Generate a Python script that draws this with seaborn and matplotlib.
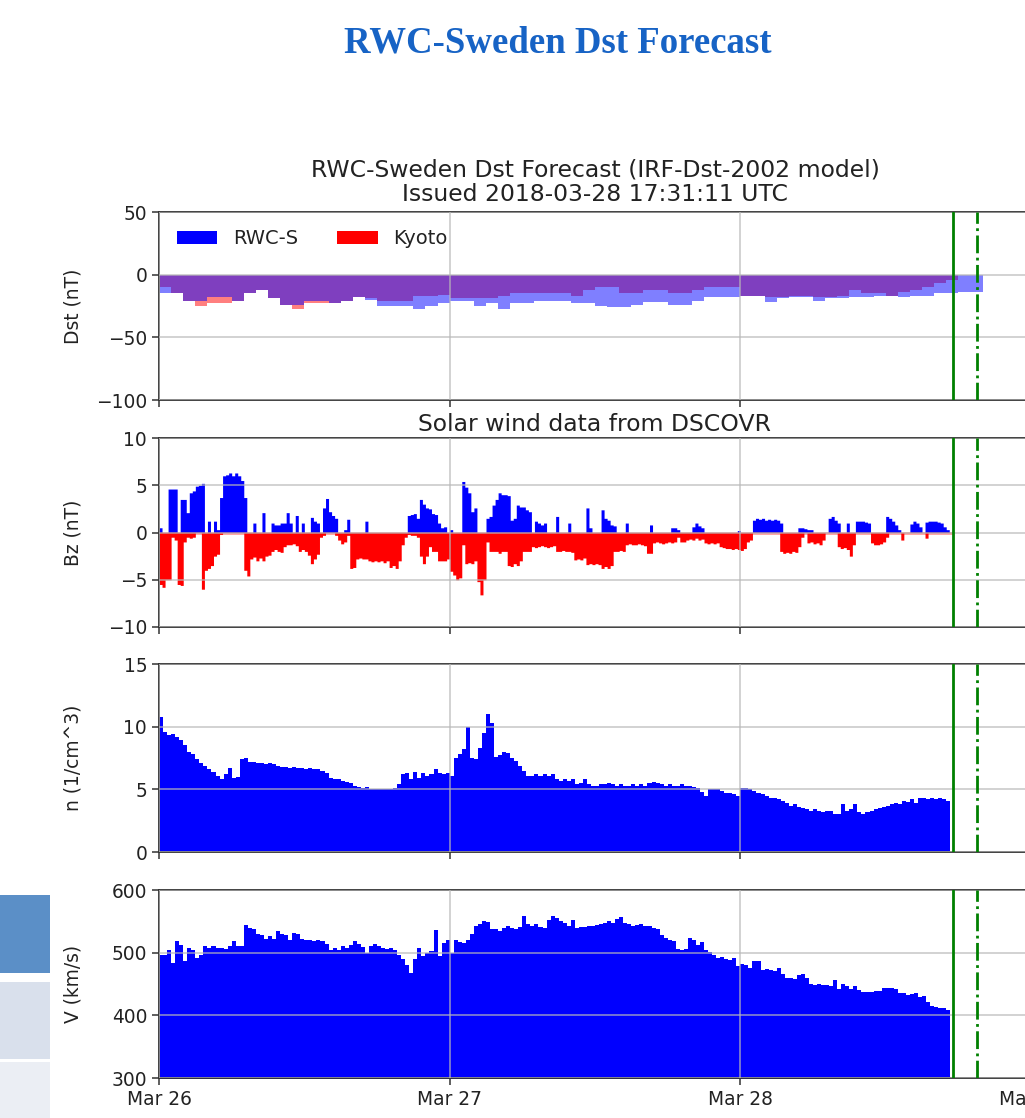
import numpy as np
import matplotlib
matplotlib.use("Agg")
import matplotlib.pyplot as plt
import seaborn as sns
from matplotlib.patches import Patch, Rectangle

# ---------------- data ----------------
page_title = "RWC-Sweden Dst Forecast"
chart_title = "RWC-Sweden Dst Forecast (IRF-Dst-2002 model)\nIssued 2018-03-28 17:31:11 UTC"
wind_title = "Solar wind data from DSCOVR"
day_labels = ["Mar 26", "Mar 27", "Mar 28", "Mar 29"]
series_names = ["RWC-S", "Kyoto"]
y_labels = ["Dst (nT)", "Bz (nT)", "n (1/cm^3)", "V (km/s)"]

# Dst, hourly values from Mar 26 00:00
dst_rwc = [-15, -15, -21, -21, -18, -18, -21, -15, -12, -19, -24, -24, -21, -21, -23, -21,
           -18, -20, -25, -25, -25, -27, -25, -23, -21, -21, -25, -23, -27, -23, -23, -21,
           -21, -21, -23, -23, -25, -26, -26, -24, -22, -22, -24, -24, -21, -18, -18, -18,
           -17, -17, -22, -19, -18, -18, -21, -19, -19, -18, -18, -17, -17, -18, -17, -17,
           -15, -15, -14, -14]
dst_kyoto = [-10, -15, -21, -25, -23, -23, -21, -15, -12, -19, -24, -27, -23, -23, -23, -21,
             -18, -19, -21, -21, -21, -17, -17, -16, -19, -19, -19, -19, -17, -15, -15, -15,
             -15, -15, -17, -12, -10, -10, -15, -15, -12.5, -12.5, -15, -15, -12.5, -10, -10, -10,
             -17, -17, -18, -18, -17, -17, -18, -18, -17, -12, -15, -15, -17, -14, -12, -10,
             -7, -4]

# Bz, 15-minute upper / lower envelopes
bz_high = [0.5, 0, 0, 4.6, 4.6, 4.6, 0, 3.5, 3.5, 2.1, 4.2, 4.4, 4.9, 5.0, 5.2, 0,
           1.2, 0, 1.2, 0.3, 3.7, 6.0, 6.1, 6.3, 6.0, 6.3, 6.0, 5.5, 3.7, 0, 0, 1.0,
           0, 0, 2.1, 0, 0, 1.0, 0.8, 0.8, 1.0, 1.0, 2.1, 1.0, 0, 1.8, 0, 1.0,
           0, 0, 1.6, 1.2, 1.0, 0, 2.6, 3.6, 2.2, 1.8, 1.5, 0, 0, 0.3, 1.4, 0,
           0, 0, 0, 0, 1.2, 0, 0, 0, 0, 0, 0, 0, 0, 0, 0, 0,
           0, 0, 1.8, 1.9, 2.0, 1.5, 3.5, 3.0, 2.6, 2.5, 2.0, 1.9, 1.0, 0.5, 0.6, 0,
           0.3, 0, 0, 0, 5.4, 4.8, 4.2, 2.2, 2.6, 0, 0, 0, 1.5, 1.7, 2.9, 3.5,
           4.2, 4.0, 4.0, 3.9, 1.3, 1.5, 2.9, 2.7, 2.7, 2.4, 2.2, 0, 1.2, 1.0, 0.8, 1.0,
           0, 0, 0, 1.7, 0, 0, 0, 1.0, 0, 0, 0, 0, 0, 2.6, 0.5, 0,
           0, 0, 2.4, 1.5, 1.3, 0.8, 0.7, 0, 0, 0, 1.0, 0, 0, 0, 0, 0,
           0, 0, 0.8, 0, 0, 0, 0, 0, 0, 0.5, 0.5, 0.3, 0, 0, 0, 0,
           0.6, 1.0, 0.7, 0.5, 0, 0, 0, 0, 0, 0, 0, 0, 0, 0, 0, 0.2,
           0, 0, 0, 0, 1.3, 1.5, 1.4, 1.5, 1.3, 1.4, 1.3, 1.4, 1.3, 1.0, 0, 0,
           0, 0, 0, 0.5, 0.5, 0.4, 0.3, 0.3, 0, 0, 0, 0, 0, 1.5, 1.7, 1.3,
           1.0, 0, 0, 1.0, 0, 0, 1.2, 1.2, 1.2, 1.1, 1.0, 0, 0, 0, 0, 0,
           1.7, 1.5, 1.2, 0.8, 0.3, 0, 0, 0, 0.9, 1.2, 1.0, 0.6, 0, 1.1, 1.2, 1.2,
           1.2, 1.1, 1.0, 0.6, 0.3, 0]
bz_low = [-5.5, -5.8, -5.0, -5.0, -0.5, -0.8, -5.5, -5.6, -1.0, -0.5, -0.6, -0.5, 0, 0, -6.0, -4.0,
          -3.8, -3.5, -2.5, -2.3, -0.2, 0, 0, 0, 0, 0, 0, 0, -4.0, -4.6, -2.8, -2.6,
          -3.0, -2.7, -3.0, -2.5, -2.4, -2.0, -1.8, -2.0, -2.1, -1.5, -1.3, -1.3, -1.2, -1.4, -2.0, -1.8,
          -2.0, -2.4, -3.3, -2.8, -2.3, -0.5, -0.3, 0, 0, 0, -0.3, -0.8, -1.2, -1.0, -0.3, -3.8,
          -3.7, -2.8, -2.7, -2.8, -2.8, -3.0, -3.1, -3.0, -3.1, -3.0, -3.2, -3.0, -3.7, -3.5, -3.8, -3.0,
          -1.3, -0.5, -0.2, -0.3, -0.3, -0.5, -2.5, -3.3, -2.5, -1.5, -2.0, -2.0, -3.0, -3.0, -3.0, -2.8,
          -4.1, -4.5, -5.0, -4.8, -1.3, -3.3, -3.2, -3.3, -3.0, -5.2, -6.6, -5.0, -1.0, -2.0, -2.0, -2.0,
          -2.2, -2.0, -2.0, -3.5, -3.6, -3.3, -3.5, -3.0, -2.0, -2.0, -2.0, -1.5, -1.6, -1.5, -1.4, -1.5,
          -1.6, -1.5, -1.4, -2.0, -2.0, -1.9, -2.0, -2.0, -2.1, -2.9, -2.8, -2.9, -2.7, -3.4, -3.3, -3.4,
          -3.3, -3.4, -3.8, -3.6, -3.8, -3.5, -2.0, -2.0, -1.9, -2.0, -1.3, -1.2, -1.3, -1.3, -1.2, -1.3,
          -1.4, -2.2, -2.2, -1.1, -1.0, -1.1, -1.2, -1.1, -1.0, -1.1, -1.0, -0.5, -1.0, -1.0, -0.8, -0.7,
          -0.8, -0.6, -0.8, -0.7, -1.1, -1.2, -1.1, -1.2, -1.1, -1.5, -1.6, -1.7, -1.7, -1.8, -1.7, -1.8,
          -1.9, -1.7, -1.0, -0.8, 0, 0, 0, 0, 0, 0, 0, 0, 0, -2.0, -2.2, -2.1,
          -2.2, -2.0, -2.1, -1.5, -0.5, 0, -1.1, -1.0, -1.2, -1.1, -1.3, -0.8, 0, 0, 0, 0,
          -1.5, -1.7, -1.6, -1.8, -2.5, -1.3, 0, 0, 0, 0, 0, -1.1, -1.3, -1.3, -1.2, -1.0,
          -0.5, 0, 0, 0, 0, -0.8, 0, 0, 0, 0, 0, 0, 0, -0.6, 0, 0,
          0, 0, 0, 0, 0, 0]

# Solar wind density and speed, 20-minute values
density = [10.8, 9.6, 9.3, 9.4, 9.2, 8.9, 8.5, 8.0, 7.8, 7.4, 7.1, 6.9, 6.6, 6.4, 6.1, 5.8,
           6.2, 6.7, 5.9, 6.0, 7.4, 7.5, 7.2, 7.2, 7.1, 7.1, 7.0, 7.1, 7.0, 6.9, 6.8, 6.8,
           6.7, 6.8, 6.7, 6.7, 6.6, 6.7, 6.6, 6.6, 6.5, 6.3, 5.9, 5.8, 5.8, 5.7, 5.6, 5.5,
           5.3, 5.2, 5.1, 5.2, 5.05, 5.0, 5.05, 5.0, 5.05, 5.0, 5.1, 5.4, 6.2, 6.3, 5.8, 6.4,
           5.9, 6.3, 6.1, 6.2, 6.6, 6.3, 6.2, 6.3, 6.1, 7.5, 7.8, 8.2, 10.0, 7.5, 7.4, 8.3,
           9.5, 11.0, 10.3, 7.6, 7.7, 8.0, 7.9, 7.5, 7.3, 6.9, 6.5, 6.1, 6.1, 6.2, 6.1, 6.2,
           6.1, 6.2, 5.8, 5.7, 5.8, 5.7, 5.8, 5.4, 5.5, 5.8, 5.4, 5.3, 5.3, 5.4, 5.4, 5.5,
           5.4, 5.3, 5.4, 5.3, 5.3, 5.4, 5.3, 5.4, 5.3, 5.5, 5.6, 5.5, 5.4, 5.3, 5.4, 5.3,
           5.3, 5.4, 5.3, 5.3, 5.2, 5.1, 4.8, 4.5, 5.0, 5.0, 5.0, 4.9, 4.7, 4.7, 4.6, 4.5,
           5.1, 5.1, 5.0, 4.9, 4.7, 4.6, 4.5, 4.3, 4.3, 4.2, 4.1, 3.9, 3.7, 3.8, 3.6, 3.5,
           3.4, 3.3, 3.4, 3.3, 3.2, 3.3, 3.3, 3.0, 3.0, 3.8, 3.3, 3.4, 3.8, 3.2, 3.0, 3.2,
           3.3, 3.4, 3.5, 3.6, 3.7, 3.8, 3.9, 3.8, 4.1, 4.0, 4.2, 3.9, 4.3, 4.3, 4.2, 4.3,
           4.2, 4.3, 4.2, 4.1]
speed = [496, 497, 504, 483, 518, 513, 486, 507, 505, 491, 496, 510, 508, 511, 507, 508,
         506, 510, 518, 510, 511, 544, 539, 537, 530, 528, 522, 527, 522, 534, 530, 528,
         520, 531, 530, 522, 520, 521, 519, 521, 519, 514, 505, 507, 504, 510, 507, 512,
         518, 514, 509, 500, 510, 514, 511, 508, 506, 508, 505, 497, 490, 480, 468, 490,
         507, 495, 499, 503, 536, 494, 516, 520, 500, 520, 517, 515, 520, 530, 542, 545,
         550, 549, 538, 537, 534, 539, 542, 540, 538, 541, 558, 545, 543, 545, 541, 540,
         552, 558, 555, 550, 548, 542, 552, 540, 541, 541, 542, 543, 544, 545, 548, 551,
         547, 553, 557, 547, 545, 543, 544, 546, 543, 543, 540, 537, 528, 524, 521, 518,
         506, 505, 506, 524, 521, 513, 517, 505, 501, 497, 492, 493, 490, 489, 492, 478,
         482, 480, 476, 486, 487, 472, 474, 472, 471, 476, 466, 459, 459, 458, 464, 466,
         460, 450, 449, 450, 448, 448, 447, 457, 442, 450, 447, 442, 447, 441, 437, 438,
         437, 439, 439, 443, 443, 444, 442, 435, 436, 432, 434, 436, 430, 431, 422, 415,
         413, 412, 411, 408]

issued_hour = 2 * 24 + 17 + 31 / 60 + 11 / 3600   # 2018-03-28 17:31:11 UTC
forecast_hour = issued_hour + 2.0


def step_edges(values, step_minutes):
    vals = np.asarray(values, dtype=float)
    x = np.arange(len(vals) + 1) * step_minutes / 1440.0
    y = np.append(vals, vals[-1])
    return x, y


# ---------------- style ----------------
sns.set_theme(style="ticks")
plt.rcParams["font.family"] = ["DejaVu Sans"]
plt.rcParams["axes.unicode_minus"] = True

W, H = 1025, 1118
fig = plt.figure(figsize=(W / 100, H / 100), dpi=100)
fig.patch.set_facecolor("white")

# page title
fig.text(558 / W, 1 - 43 / H, page_title, ha="center", va="center",
         family=["Liberation Serif", "DejaVu Serif"], fontweight="bold",
         fontsize=26.5, color="#1763C5")

# page side boxes
for (y0, y1, c) in [(895, 973, "#5B8FC7"), (982, 1059, "#D9E0EC"), (1062, 1118, "#EBEEF4")]:
    fig.add_artist(Rectangle((0, 1 - y1 / H), 50 / W, (y1 - y0) / H,
                             transform=fig.transFigure, facecolor=c, edgecolor="none"))

left = 159 / W
width = (1031 - 159) / W
panel_px = [(212, 400), (438, 627), (664, 852), (890, 1078)]
axes = []
for (t, b) in panel_px:
    ax = fig.add_axes([left, 1 - b / H, width, (b - t) / H])
    axes.append(ax)

tick_fs = 13.4
title_fs = 16.9
grid_kw = dict(color="#b8b8b8", alpha=0.8, linewidth=1.1)

for i, ax in enumerate(axes):
    ax.set_xlim(0, 3)
    ax.set_xticks([0, 1, 2, 3])
    if i == 3:
        ax.set_xticklabels(day_labels, fontsize=tick_fs)
    else:
        ax.set_xticklabels([])
    ax.tick_params(axis="both", direction="out", length=5, width=1.1,
                   labelsize=tick_fs, color="#333333", labelcolor="#222222")
    for sp in ax.spines.values():
        sp.set_color("#333333")
        sp.set_linewidth(1.3)
    ax.set_axisbelow(False)
    ax.grid(True, **grid_kw)
    ax.set_ylabel(y_labels[i], fontsize=tick_fs, color="#222222")
    ax.axvline(issued_hour / 24, color="green", lw=2.0, zorder=5)
    ax.axvline(forecast_hour / 24, color="green", lw=2.0, ls="-.", zorder=5)

# --- Dst panel ---
ax = axes[0]
xk, yk = step_edges(dst_kyoto, 60)
xr, yr = step_edges(dst_rwc, 60)
ax.fill_between(xk, yk, 0, step="post", color="red", alpha=0.5, linewidth=0)
ax.fill_between(xr, yr, 0, step="post", color="blue", alpha=0.5, linewidth=0)
ax.set_ylim(-100, 50)
ax.set_yticks([-100, -50, 0, 50])
ax.set_title(chart_title, fontsize=title_fs, pad=8, color="#222222", linespacing=1.05)
handles = [Patch(facecolor="blue", edgecolor="none"), Patch(facecolor="red", edgecolor="none")]
leg = ax.legend(handles, series_names, loc="upper left", ncol=2, frameon=False,
                fontsize=14, borderaxespad=0.5, columnspacing=2.0, handlelength=2.1)
for t in leg.get_texts():
    t.set_color("#222222")

# --- Bz panel ---
ax = axes[1]
xb, yh = step_edges(bz_high, 15)
_, yl = step_edges(bz_low, 15)
ax.fill_between(xb, yh, 0, step="post", color="blue", linewidth=0)
ax.fill_between(xb, yl, 0, step="post", color="red", linewidth=0)
sns.lineplot(x=[xb[0], xb[-1]], y=[0, 0], ax=ax, color="red", alpha=0.45, lw=1.8)
ax.set_ylim(-10, 10)
ax.set_yticks([-10, -5, 0, 5, 10])
ax.set_title(wind_title, fontsize=title_fs, pad=5, color="#222222")

# --- density panel ---
ax = axes[2]
xn, yn = step_edges(density, 20)
ax.fill_between(xn, yn, 0, step="post", color="blue", linewidth=0)
ax.set_ylim(0, 15)
ax.set_yticks([0, 5, 10, 15])

# --- speed panel ---
ax = axes[3]
xv, yv = step_edges(speed, 20)
ax.fill_between(xv, yv, 0, step="post", color="blue", linewidth=0)
ax.set_ylim(300, 600)
ax.set_yticks([300, 400, 500, 600])

for ax in axes:
    ax.set_xlim(0, 3)
    ax.yaxis.set_label_coords(-0.088, 0.5)

fig.savefig("out.png", dpi=100, facecolor="white")
